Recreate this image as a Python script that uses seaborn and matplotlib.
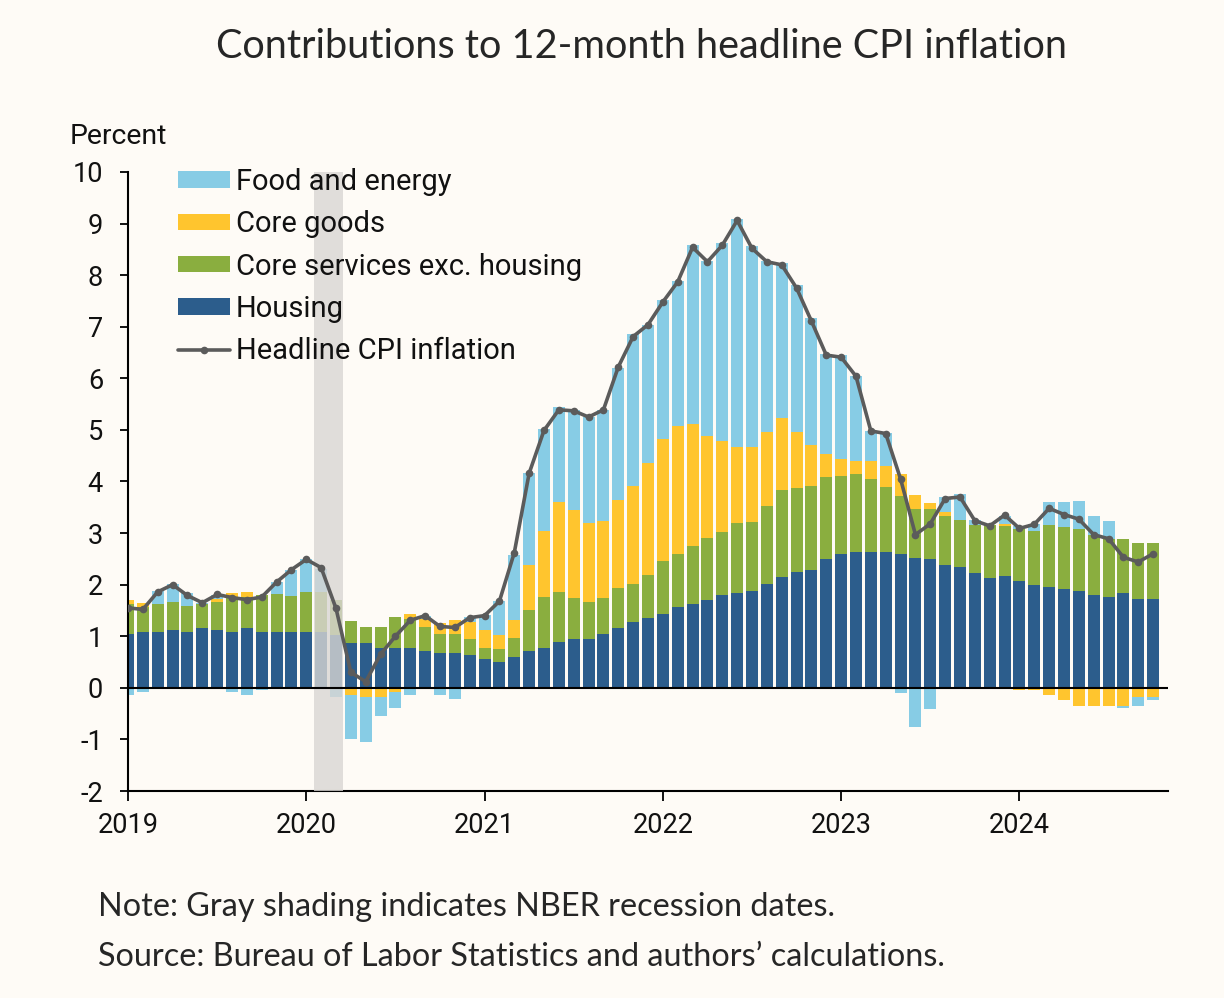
import numpy as np
import pandas as pd
import matplotlib
matplotlib.use("Agg")
import matplotlib.pyplot as plt
import seaborn as sns

# monthly contributions, Jan 2019 - Oct 2024 (percentage points)
years = ["2019", "2020", "2021", "2022", "2023", "2024"]

housing = [1.05, 1.08, 1.08, 1.13, 1.08, 1.16, 1.13, 1.08, 1.16, 1.08, 1.08, 1.08,
           1.08, 1.08, 1.02, 0.86, 0.86, 0.78, 0.78, 0.78, 0.71, 0.67, 0.67, 0.63,
           0.56, 0.51, 0.59, 0.72, 0.77, 0.89, 0.95, 0.95, 1.05, 1.16, 1.28, 1.36,
           1.44, 1.56, 1.63, 1.71, 1.79, 1.83, 1.87, 2.02, 2.14, 2.25, 2.29, 2.49,
           2.60, 2.64, 2.64, 2.64, 2.60, 2.52, 2.49, 2.38, 2.34, 2.22, 2.13, 2.16,
           2.08, 2.00, 1.96, 1.92, 1.87, 1.80, 1.77, 1.84, 1.72, 1.72]
core_services = [0.57, 0.49, 0.54, 0.54, 0.50, 0.47, 0.53, 0.68, 0.61, 0.72, 0.74, 0.70,
                 0.77, 0.77, 0.68, 0.43, 0.31, 0.40, 0.59, 0.55, 0.47, 0.38, 0.38, 0.31,
                 0.22, 0.24, 0.38, 0.78, 1.00, 0.97, 0.79, 0.71, 0.69, 0.78, 0.74, 0.82,
                 1.01, 1.04, 1.12, 1.20, 1.24, 1.36, 1.35, 1.51, 1.70, 1.62, 1.63, 1.59,
                 1.51, 1.51, 1.40, 1.25, 1.12, 0.94, 0.97, 0.96, 0.92, 0.94, 1.02, 0.97,
                 1.00, 1.05, 1.20, 1.20, 1.21, 1.17, 1.12, 1.05, 1.09, 1.09]
core_goods = [0.08, 0.08, 0.00, 0.00, 0.00, 0.00, 0.06, 0.08, 0.08, 0.00, 0.00, 0.00,
              0.00, 0.00, 0.00, -0.13, -0.17, -0.17, -0.08, 0.10, 0.15, 0.20, 0.27, 0.34,
              0.35, 0.27, 0.35, 0.89, 1.28, 1.74, 1.70, 1.54, 1.49, 1.71, 1.90, 2.17,
              2.37, 2.48, 2.37, 1.98, 1.75, 1.47, 1.44, 1.43, 1.40, 1.09, 0.78, 0.46,
              0.32, 0.24, 0.36, 0.42, 0.42, 0.27, 0.12, 0.07, 0.00, 0.00, 0.00, 0.04,
              -0.05, -0.05, -0.13, -0.23, -0.36, -0.36, -0.36, -0.36, -0.17, -0.17]
food_energy = [-0.13, -0.08, 0.25, 0.34, 0.25, 0.02, 0.08, -0.08, -0.13, -0.05, 0.24, 0.50,
               0.65, 0.46, -0.18, -0.86, -0.88, -0.38, -0.32, -0.13, 0.06, -0.13, -0.21, 0.10,
               0.29, 0.66, 1.26, 1.78, 1.97, 1.84, 1.95, 2.05, 2.16, 2.55, 2.93, 2.69,
               2.70, 2.80, 3.47, 3.38, 3.84, 4.43, 3.90, 3.32, 3.00, 2.84, 2.47, 1.94,
               2.03, 1.65, 0.57, 0.63, -0.10, -0.76, -0.41, 0.29, 0.49, 0.09, 0.00, 0.17,
               0.06, 0.13, 0.45, 0.49, 0.54, 0.37, 0.34, -0.04, -0.19, -0.07]
headline = [1.55, 1.52, 1.86, 2.00, 1.79, 1.65, 1.81, 1.75, 1.71, 1.76, 2.05, 2.29,
            2.49, 2.33, 1.54, 0.30, 0.12, 0.65, 1.00, 1.31, 1.40, 1.19, 1.17, 1.36,
            1.40, 1.68, 2.62, 4.16, 4.99, 5.39, 5.37, 5.25, 5.39, 6.22, 6.81, 7.04,
            7.48, 7.87, 8.54, 8.26, 8.58, 9.06, 8.52, 8.26, 8.20, 7.75, 7.11, 6.45,
            6.41, 6.04, 4.98, 4.93, 4.05, 2.97, 3.18, 3.67, 3.70, 3.24, 3.14, 3.35,
            3.09, 3.17, 3.48, 3.36, 3.27, 2.97, 2.89, 2.53, 2.44, 2.60]

df = pd.DataFrame({
    "month": np.arange(len(headline)),
    "Housing": housing,
    "Core services exc. housing": core_services,
    "Core goods": core_goods,
    "Food and energy": food_energy,
    "Headline CPI inflation": headline,
})

colors = {
    "Housing": "#2C5D8C",
    "Core services exc. housing": "#8AAE3F",
    "Core goods": "#FFC52E",
    "Food and energy": "#87CCE5",
}
bg = "#FEFBF6"

sns.set_style("ticks")
plt.rcParams["font.family"] = ["Roboto", "DejaVu Sans"]
plt.rcParams["axes.unicode_minus"] = False

fig = plt.figure(figsize=(12.24, 9.98), dpi=100, facecolor=bg)
ax = fig.add_axes([128 / 1224, 1 - 791 / 998, 1040 / 1224, 619 / 998])
ax.set_facecolor(bg)

pos = np.zeros(len(df))
neg = np.zeros(len(df))
handles = {}
for name in ["Housing", "Core services exc. housing", "Core goods", "Food and energy"]:
    v = df[name].to_numpy()
    bottom = np.where(v >= 0, pos, neg)
    handles[name] = ax.bar(df["month"], v, bottom=bottom, width=0.8,
                           color=colors[name], label=name, zorder=2, linewidth=0)
    pos += np.clip(v, 0, None)
    neg += np.clip(v, None, 0)

# recession shading
ax.axvspan(12.5, 14.5, color="#D9D6D3", alpha=0.8, zorder=3, linewidth=0)

sns.lineplot(data=df, x="month", y="Headline CPI inflation", ax=ax, color="#5B5B5B",
             linewidth=2.6, marker="o", markersize=5.5, markeredgewidth=0, zorder=5,
             label="Headline CPI inflation", legend=False)
line_handle = ax.get_lines()[-1]

ax.axhline(0, color="black", linewidth=1.5, zorder=4)

ax.set_xlim(0, 70)
ax.set_ylim(-2, 10)
ax.set_yticks(range(-2, 11))
ax.set_xticks(range(0, 72, 12))
ax.set_xticklabels(years)
ax.tick_params(axis="both", labelsize=19.5, colors="#111111", width=1.4)
ax.tick_params(axis="y", length=6, pad=12)
ax.tick_params(axis="x", length=7, pad=8)
ax.set_xlabel("")
ax.set_ylabel("")
sns.despine(ax=ax)
for s in ["left", "bottom"]:
    ax.spines[s].set_linewidth(1.5)
    ax.spines[s].set_color("black")

order = ["Food and energy", "Core goods", "Core services exc. housing", "Housing"]
leg = ax.legend([handles[n] for n in order] + [line_handle], order + ["Headline CPI inflation"],
                loc="upper left", bbox_to_anchor=(0.048, 1.0065), frameon=False,
                fontsize=21, handlelength=1.78, handleheight=0.48, handletextpad=0.21,
                labelspacing=0.49, borderpad=0, borderaxespad=0)
leg.set_zorder(6)
for t in leg.get_texts():
    t.set_color("#111111")

fig.text(70 / 1224, 1 - 137 / 998, "Percent", fontsize=20.5, va="center", ha="left",
         color="#111111")
fig.text(641 / 1224, 1 - 47 / 998, "Contributions to 12-month headline CPI inflation",
         fontsize=28.5, ha="center", va="center", family=["Lato", "DejaVu Sans"])
fig.text(98 / 1224, 1 - 907 / 998, "Note: Gray shading indicates NBER recession dates.",
         fontsize=23.3, ha="left", va="center", family=["Lato", "DejaVu Sans"])
fig.text(98 / 1224, 1 - 957 / 998, "Source: Bureau of Labor Statistics and authors\u2019 calculations.",
         fontsize=23.3, ha="left", va="center", family=["Lato", "DejaVu Sans"])

fig.savefig("out.png", dpi=100, facecolor=bg)
